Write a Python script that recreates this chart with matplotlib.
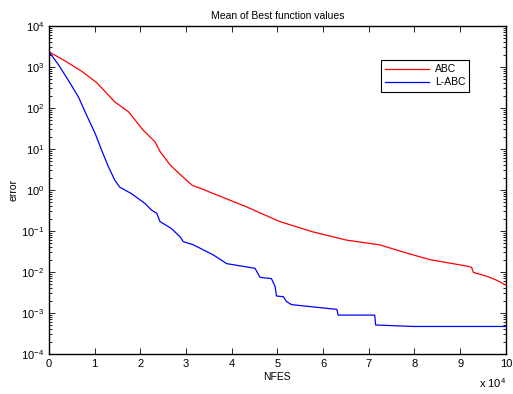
import math
import matplotlib
matplotlib.use("Agg")
import matplotlib.pyplot as plt
from matplotlib.ticker import FixedLocator, FuncFormatter, LogLocator, NullFormatter

# NFES (in evaluations) and mean best error
abc_nfes = [0, 3500, 7200, 10400, 14400, 17400, 20600, 23200, 24300, 26500,
            28700, 31400, 33400, 36100, 43200, 50500, 57800, 65100, 72400,
            78300, 83400, 91400, 92500, 92900, 95800, 98000, 100000]
abc_err = [2350, 1410, 780, 420, 141, 81, 29, 15, 8.7, 4.1,
           2.4, 1.29, 1.07, 0.81, 0.39, 0.17, 0.095, 0.060, 0.046,
           0.029, 0.020, 0.014, 0.013, 0.0098, 0.0079, 0.0063, 0.0048]

labc_nfes = [0, 2000, 4200, 6400, 8200, 10100, 11500, 13000, 14400, 15500,
             18100, 21000, 22500, 23600, 24300, 26800, 28700, 29400, 31600,
             36000, 38900, 45100, 46200, 48700, 49500, 49800, 51300, 52000,
             53100, 60800, 63000, 63300, 71300, 71500, 79700, 100000]
labc_err = [2350, 1170, 480, 190, 68, 24, 9.5, 3.7, 1.74, 1.17,
            0.81, 0.47, 0.32, 0.27, 0.17, 0.115, 0.072, 0.055, 0.046,
            0.026, 0.016, 0.0123, 0.0074, 0.0069, 0.0044, 0.0026, 0.0025, 0.0019,
            0.0016, 0.0013, 0.00123, 0.00089, 0.00089, 0.00051, 0.00047, 0.00047]

x_ticks = [0, 1, 2, 3, 4, 5, 6, 7, 8, 9, 10]

plt.rcParams['font.family'] = ['Liberation Sans', 'DejaVu Sans']
plt.rcParams['mathtext.fontset'] = 'custom'
plt.rcParams['mathtext.rm'] = 'Liberation Sans'
plt.rcParams['mathtext.it'] = 'Liberation Sans'
plt.rcParams['mathtext.bf'] = 'Liberation Sans'

fig = plt.figure(figsize=(5.13, 3.94), dpi=100)
ax = fig.add_axes([0.0955, 0.1015, 0.8905, 0.8325])

ax.plot(abc_nfes, abc_err, color='red', lw=0.9, label='ABC')
ax.plot(labc_nfes, labc_err, color='blue', lw=0.9, label='L-ABC')

ax.set_yscale('log')
ax.set_xlim(0, 100000)
ax.set_ylim(1e-4, 1e4)

ax.xaxis.set_major_locator(FixedLocator([t * 1e4 for t in x_ticks]))
ax.xaxis.set_major_formatter(FuncFormatter(lambda v, p: '%d' % round(v / 1e4)))
ax.yaxis.set_major_locator(LogLocator(base=10, numticks=20))
ax.yaxis.set_minor_locator(LogLocator(base=10, subs=range(2, 10), numticks=20))
ax.yaxis.set_minor_formatter(NullFormatter())
ax.yaxis.set_major_formatter(FuncFormatter(
    lambda v, p: r'$\mathregular{10^{%d}}$' % round(math.log10(v))))
ax.xaxis.offsetText.set_visible(False)
ax.yaxis.offsetText.set_visible(False)

ax.tick_params(which='both', direction='in', top=True, right=True,
               labelsize=8, width=0.6)
ax.tick_params(which='major', length=4)
ax.tick_params(which='minor', length=2)
for s in ax.spines.values():
    s.set_linewidth(1.0)

ax.set_title('Mean of Best function values', fontsize=7.5, pad=5)
ax.set_xlabel('NFES', fontsize=7.5, labelpad=2)
ax.set_ylabel('error', fontsize=7.5, labelpad=2)
ax.text(1.0, -0.105, r'x $\mathregular{10^{4}}$', transform=ax.transAxes,
        ha='right', va='baseline', fontsize=8)

leg = ax.legend(loc='upper left', bbox_to_anchor=(0.726, 0.896), fontsize=7.5,
                fancybox=False, framealpha=1, edgecolor='black',
                handlelength=4.2, borderpad=0.4, labelspacing=0.3,
                handletextpad=0.6, borderaxespad=0)
leg.get_frame().set_linewidth(0.8)

fig.savefig('out.png', dpi=100)
